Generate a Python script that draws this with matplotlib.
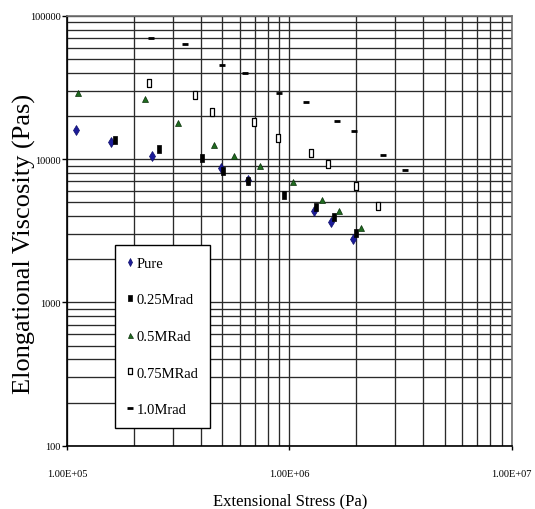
import matplotlib
matplotlib.use("Agg")
import matplotlib.pyplot as plt
from matplotlib.ticker import LogLocator, FixedLocator, FixedFormatter, NullFormatter

plt.rcParams['font.family'] = ['Liberation Serif', 'DejaVu Serif']

# data (stress in Pa, viscosity in Pa.s)
pure_x = [1.10e5, 1.58e5, 2.42e5, 4.94e5, 6.53e5, 1.297e6, 1.546e6, 1.93e6]
pure_y = [15850, 13080, 10440, 8610, 7135, 4337, 3651, 2766]

r025_x = [1.648e5, 2.59e5, 4.06e5, 5.02e5, 6.55e5, 9.45e5, 1.324e6, 1.595e6, 1.996e6]
r025_y = [13640, 11740, 10110, 8250, 7059, 5610, 4600, 3938, 3030]

r05_x = [1.12e5, 2.24e5, 3.15e5, 4.58e5, 5.63e5, 7.41e5, 1.043e6, 1.409e6, 1.669e6, 2.102e6]
r05_y = [28740, 26240, 17750, 12470, 10500, 8980, 6877, 5176, 4357, 3284]

r075_x = [2.35e5, 3.76e5, 4.49e5, 6.95e5, 8.88e5, 1.257e6, 1.498e6, 1.996e6, 2.506e6]
r075_y = [33750, 27830, 21180, 18040, 14080, 10960, 9230, 6510, 4700]

r10_x = [2.375e5, 3.40e5, 4.97e5, 6.35e5, 8.97e5, 1.186e6, 1.635e6, 1.955e6, 2.64e6, 3.30e6]
r10_y = [69530, 63460, 45500, 39810, 29020, 25100, 18420, 15610, 10610, 8420]

labels = ['Pure', '0.25Mrad', '0.5MRad', '0.75MRad', '1.0Mrad']
xticks = [1e5, 1e6, 1e7]
xtick_labels = ['1.00E+05', '1.00E+06', '1.00E+07']
yticks = [100, 1000, 10000, 100000]
ytick_labels = ['100', '1000', '10000', '100000']

fig = plt.figure(figsize=(5.35, 5.10), dpi=100)
ax = fig.add_axes([0.1252, 0.1241, 0.8312, 0.8431])

rect = [(-0.65, -1), (0.65, -1), (0.65, 1), (-0.65, 1), (-0.65, -1)]

ax.plot(pure_x, pure_y, ls='none', marker='d', ms=5, color='#1c1c9a', mec='#10106a', mew=0.5, label=labels[0], zorder=3)
ax.plot(r025_x, r025_y, ls='none', marker=rect, ms=5.5, color='black', mec='black', mew=0.5, label=labels[1], zorder=3)
ax.plot(r05_x, r05_y, ls='none', marker='^', ms=4.5, color='#1f6b1f', mec='#0a300a', mew=0.5, label=labels[2], zorder=3)
ax.plot(r075_x, r075_y, ls='none', marker=rect, ms=5.5, color='white', mec='black', mew=0.9, label=labels[3], zorder=3)
ax.plot(r10_x, r10_y, ls='none', marker='_', ms=5, color='black', mew=2, label=labels[4], zorder=3)

ax.set_xscale('log')
ax.set_yscale('log')
ax.set_xlim(1e5, 1e7)
ax.set_ylim(100, 100000)

ax.xaxis.set_major_locator(FixedLocator(xticks))
ax.xaxis.set_major_formatter(FixedFormatter(xtick_labels))
ax.yaxis.set_major_locator(FixedLocator(yticks))
ax.yaxis.set_major_formatter(FixedFormatter(ytick_labels))
ax.xaxis.set_minor_locator(LogLocator(base=10, subs=range(2, 10)))
ax.yaxis.set_minor_locator(LogLocator(base=10, subs=range(2, 10)))
ax.xaxis.set_minor_formatter(NullFormatter())
ax.yaxis.set_minor_formatter(NullFormatter())

ax.grid(True, which='both', color='#2a2a2a', lw=0.95)
ax.set_axisbelow(True)
ax.tick_params(which='minor', length=0)
ax.tick_params(axis='x', which='major', length=3, width=1, pad=14, labelsize=7.5)
ax.tick_params(axis='y', which='major', length=3.5, width=1, pad=1, labelsize=7.5)

for side in ['left', 'bottom']:
    ax.spines[side].set_color('black')
    ax.spines[side].set_linewidth(1.2)
for side in ['top', 'right']:
    ax.spines[side].set_color('#707070')
    ax.spines[side].set_linewidth(1.2)

ax.set_xlabel('Extensional Stress (Pa)', fontsize=12, va='center')
ax.xaxis.set_label_coords(0.502, -0.128)
ax.set_ylabel('Elongational Viscosity (Pas)', fontsize=19, va='center')
ax.yaxis.set_label_coords(-0.095, 0.471)

leg = ax.legend(loc='upper left', bbox_to_anchor=(0.108, 0.4667), fontsize=10.5,
                frameon=True, fancybox=False, edgecolor='black', framealpha=1,
                handlelength=0.4, handletextpad=0.3, labelspacing=1.6,
                borderpad=0.8, borderaxespad=0, markerscale=0.8)
leg.get_frame().set_linewidth(1)

fig.savefig('out.png', dpi=100)
